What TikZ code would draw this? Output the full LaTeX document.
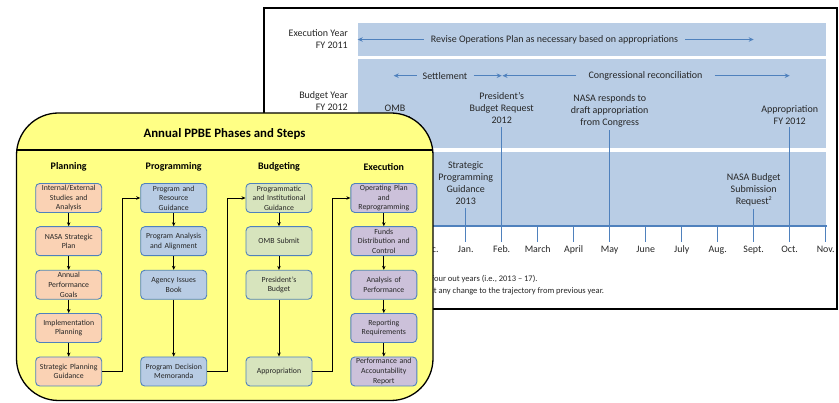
\documentclass[tikz,border=0pt]{standalone}
\usepackage{fontspec}
\setmainfont{Carlito}
\usetikzlibrary{arrows.meta,positioning}
\definecolor{band}{HTML}{B9CDE5}
\definecolor{lineblue}{HTML}{4F81BD}
\definecolor{ptext}{HTML}{262626}
\definecolor{yel}{HTML}{FFFF85}
\definecolor{peach}{HTML}{FAD2B4}
\definecolor{pblue}{HTML}{B8CCE4}
\definecolor{pgreen}{HTML}{D7E4BD}
\definecolor{ppurple}{HTML}{CCC1DA}
\tikzset{
  lbl/.style={font=\fontsize{10}{12}\selectfont, text=ptext, align=center, inner sep=3pt},
  rowlbl/.style={lbl, align=right, anchor=east},
  month/.style={font=\fontsize{9.9}{12}\selectfont, text=ptext, anchor=north, inner sep=1pt},
  foot/.style={font=\fontsize{8.5}{12}\selectfont, text=ptext, anchor=west, inner sep=0pt},
  barrow/.style={draw=lineblue, line width=1.3pt, -{Stealth[length=5pt,width=4.5pt]}},
  vline/.style={draw=lineblue, line width=1.5pt},
  stepbox/.style={draw=lineblue, line width=0.9pt, rounded corners=4pt, minimum width=66pt, minimum height=29pt, inner sep=1pt, align=center, text width=64pt, font=\fontsize{7.8}{9.6}\selectfont, text=ptext},
  phasehead/.style={font=\bfseries\fontsize{10}{12}\selectfont},
  flow/.style={draw=black, line width=0.8pt, -{Stealth[length=4pt,width=3.5pt]}},
}
\begin{document}
\begin{tikzpicture}[x=1pt,y=-1pt]
\useasboundingbox (0,0) rectangle (839,403);
\fill[white] (0,0) rectangle (839,403);
% ---------------- timeline panel ----------------
\draw[line width=2pt] (264,8) rectangle (837,309);
\fill[band] (357.7,22.7) rectangle (826,55.7);
\fill[band] (357.7,59.3) rectangle (826,147.7);
\fill[band] (357.7,152.3) rectangle (826,226);
\draw[vline] (357.7,226) -- (826.5,226);
% ticks and months
\foreach \i/\m in {2/Dec.,3/Jan.,4/Feb.,5/March,6/April,7/May,8/June,9/July,10/Aug.,11/Sept.,12/Oct.,13/Nov.}{
  \coordinate (t\i) at ({357.7+36*\i},242);
  \draw[vline] ({357.7+36*\i},226) -- (t\i);
  \node[month] (m\i) at ({357.7+36*\i},244.5) {\m};
}
% row labels
\node[rowlbl] (exy) at (351,39.5) {Execution Year\\FY 2011};
\node[rowlbl] (buy) at (351,101) {Budget Year\\FY 2012};
% row 1 arrow
\node[lbl, inner xsep=7pt] (revise) at (554.5,39.5) {Revise Operations Plan as necessary based on appropriations};
\coordinate (revL) at (357.7,39.5);
\coordinate (revR) at (753.7,39.5);
\draw[barrow] (revise.west) -- (revL);
\draw[barrow] (revise.east) -- (revR);
% row 2 arrows
\node[lbl, inner xsep=6pt] (settle) at (445,75.7) {Settlement};
\coordinate (setL) at (393.7,75.7);
\coordinate (febA) at (501.7,75.7);
\coordinate (febB) at (502.5,75.7);
\coordinate (octA) at (789.7,75.7);
\draw[barrow] (settle.west) -- (setL);
\draw[barrow] (settle.east) -- (febA);
\node[lbl, inner xsep=12pt] (congr) at (645.5,75.7) {Congressional reconciliation};
\draw[barrow] (congr.west) -- (febB);
\draw[barrow] (congr.east) -- (octA);
% events
\node[lbl] (omb) at (395,114.2) {OMB\\Passback};
\node[lbl] (pbr) at (501.7,108.5) {President’s\\Budget Request\\2012};
\node[lbl] (nasar) at (609.7,110.5) {NASA responds to\\draft appropriation\\from Congress};
\node[lbl] (appr) at (789.7,114.8) {Appropriation\\FY 2012};
\node[lbl] (spg) at (465.7,183.3) {Strategic\\Programming\\Guidance\\2013};
\node[lbl] (nbsr) at (753.7,190) {NASA Budget\\Submission\\Request\raisebox{0.45em}{\fontsize{6}{6}\selectfont 2}};
\draw[vline] (pbr.south) -- (t4);
\draw[vline] (nasar.south) -- (t7);
\draw[vline] (appr.south) -- (t12);
\draw[vline] (spg.south) -- (t3);
\draw[vline] (nbsr.south) -- (t11);
% footnotes
\node[foot] (fn1) at (431.5,279.3) {four out years (i.e., 2013 -- 17).};
\node[foot] (fn2) at (430,291.5) {ct any change to the trajectory from previous year.};
% ---------------- yellow PPBE box ----------------
\draw[fill=yel, line width=1.3pt, rounded corners=42pt] (16.5,113) rectangle (433,400.5);
\draw[line width=1.1pt] (17,150) -- (432.6,150);
\node[font=\bfseries\fontsize{12.8}{14}\selectfont] (title) at (224.5,134.5) {Annual PPBE Phases and Steps};
\node[phasehead] (hP) at (68.7,166.7) {Planning};
\node[phasehead] (hG) at (173.7,166.7) {Programming};
\node[phasehead] (hB) at (279,166.7) {Budgeting};
\node[phasehead] (hE) at (383.8,166.7) {Execution};
% Planning
\node[stepbox, fill=peach] (p1) at (68.7,198) {Internal/External\\Studies and\\Analysis};
\node[stepbox, fill=peach] (p2) at (68.7,241.2) {NASA Strategic\\Plan};
\node[stepbox, fill=peach] (p3) at (68.7,284.8) {Annual\\Performance\\Goals};
\node[stepbox, fill=peach] (p4) at (68.7,328) {Implementation\\Planning};
\node[stepbox, fill=peach] (p5) at (68.7,371.5) {Strategic Planning\\Guidance};
% Programming
\node[stepbox, fill=pblue] (g1) at (173.7,198) {Program and\\Resource\\Guidance};
\node[stepbox, fill=pblue] (g2) at (173.7,241.2) {Program Analysis\\and Alignment};
\node[stepbox, fill=pblue] (g3) at (173.7,284.8) {Agency Issues\\Book};
\node[stepbox, fill=pblue] (g5) at (173.7,371.5) {Program Decision\\Memoranda};
% Budgeting
\node[stepbox, fill=pgreen] (b1) at (279,198) {Programmatic\\and Institutional\\Guidance};
\node[stepbox, fill=pgreen] (b2) at (279,241.2) {OMB Submit};
\node[stepbox, fill=pgreen] (b3) at (279,284.8) {President’s\\Budget};
\node[stepbox, fill=pgreen] (b5) at (279,371.5) {Appropriation};
% Execution
\node[stepbox, fill=ppurple] (e1) at (383.8,198) {Operating Plan\\and\\Reprogramming};
\node[stepbox, fill=ppurple] (e2) at (383.8,241.2) {Funds\\Distribution and\\Control};
\node[stepbox, fill=ppurple] (e3) at (383.8,284.8) {Analysis of\\Performance};
\node[stepbox, fill=ppurple] (e4) at (383.8,328) {Reporting\\Requirements};
\node[stepbox, fill=ppurple] (e5) at (383.8,371.5) {Performance and\\Accountability\\Report};
% flows
\draw[flow] (p1) -- (p2);
\draw[flow] (p2) -- (p3);
\draw[flow] (p3) -- (p4);
\draw[flow] (p4) -- (p5);
\draw[flow] (g1) -- (g2);
\draw[flow] (g2) -- (g3);
\draw[flow] (g3) -- (g5);
\draw[flow] (b1) -- (b2);
\draw[flow] (b2) -- (b3);
\draw[flow] (b3) -- (b5);
\draw[flow] (e1) -- (e2);
\draw[flow] (e2) -- (e3);
\draw[flow] (e3) -- (e4);
\draw[flow] (e4) -- (e5);
\draw[flow] (p5.east) -- ++(20,0) |- (g1.west);
\draw[flow] (g5.east) -- ++(20,0) |- (b1.west);
\draw[flow] (b5.east) -- ++(20,0) |- (e1.west);
\end{tikzpicture}
\end{document}
